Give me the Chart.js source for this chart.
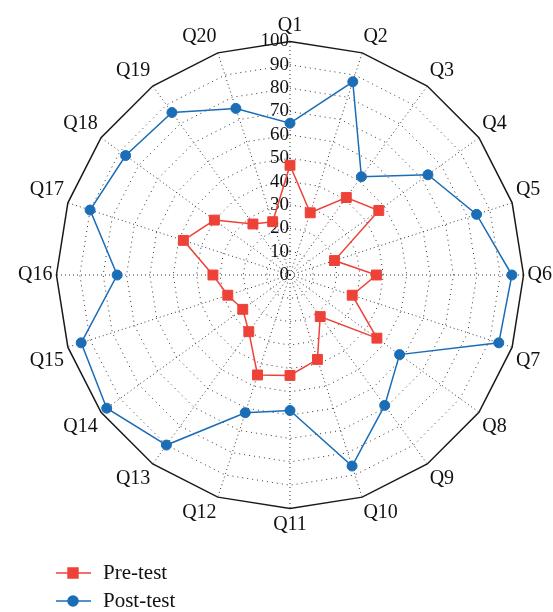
<!DOCTYPE html>
<html>
<head>
<meta charset="utf-8">
<script src="https://cdn.jsdelivr.net/npm/chart.js@4.4.1/dist/chart.umd.min.js"></script>
<style>
  html, body { margin: 0; padding: 0; background: #fff; overflow: hidden; width: 553px; height: 612px; }
  /* canvas is a bit larger than the window so the point labels may run to the edges */
  #radar { position: absolute; left: 0; top: -12px; display: block; }
</style>
</head>
<body>
<canvas id="radar" width="600" height="640"></canvas>
<script>
'use strict';

// questions round the radar
const questions = ['Q1', 'Q2', 'Q3', 'Q4', 'Q5', 'Q6', 'Q7', 'Q8', 'Q9', 'Q10',
    'Q11', 'Q12', 'Q13', 'Q14', 'Q15', 'Q16', 'Q17', 'Q18', 'Q19', 'Q20'];

// scores
const preTest = [47, 28, 41, 47, 20, 37, 28, 46, 22, 38, 43, 45, 30, 25, 28, 33, 48, 40, 27, 24];
const postTest = [65, 87, 52, 73, 84, 95, 94, 58, 69, 86, 58, 62, 90, 97, 94, 74, 90, 87, 86, 75];

const tickValues = [0, 10, 20, 30, 40, 50, 60, 70, 80, 90, 100];
const tickLabels = ['0', '10', '20', '30', '40', '50', '60', '70', '80', '90', '100'];

const serif = '"Liberation Serif", "Times New Roman", serif';

// tick numbers sit just left of the Q1 spoke, "0" included
const tickText = {
    id: 'tickText',
    beforeDatasetsDraw(chart)
    {
        const r = chart.scales.r;
        const ctx = chart.ctx;
        ctx.save();
        ctx.font = '19px ' + serif;
        ctx.fillStyle = '#111';
        ctx.textAlign = 'right';
        ctx.textBaseline = 'middle';
        tickValues.forEach((v, i) =>
        {
            const d = r.getDistanceFromCenterForValue(v);
            ctx.fillText(tickLabels[i], r.xCenter - 1, r.yCenter - d);
        });
        ctx.restore();
    }
};

// legend with a line through the marker, stacked at bottom left
const lineLegend = {
    id: 'lineLegend',
    afterDraw(chart)
    {
        const ctx = chart.ctx;
        chart.data.datasets.forEach((ds, i) =>
        {
            const y = 585 + i * 28;
            ctx.save();
            ctx.strokeStyle = ds.borderColor;
            ctx.lineWidth = 1.5;
            ctx.beginPath();
            ctx.moveTo(56, y);
            ctx.lineTo(91, y);
            ctx.stroke();
            ctx.fillStyle = ds.pointBackgroundColor;
            ctx.strokeStyle = ds.pointBorderColor;
            Chart.helpers.drawPoint(ctx, { pointStyle: ds.pointStyle, radius: ds.pointRadius, borderWidth: 1, rotation: 0 }, 73, y);
            ctx.font = '21px ' + serif;
            ctx.fillStyle = '#111';
            ctx.textAlign = 'left';
            ctx.textBaseline = 'middle';
            ctx.fillText(ds.label, 103, y);
            ctx.restore();
        });
    }
};

const ctx = document.getElementById('radar').getContext('2d');
const radarChart = new Chart(ctx, {
    type: 'radar',
    data: {
        labels: questions,
        datasets: [
            {
                label: 'Pre-test',
                data: preTest,
                borderColor: '#ee4238',
                backgroundColor: '#ee4238',
                borderWidth: 1.5,
                fill: false,
                pointStyle: 'rect',
                pointRadius: 7,
                pointBackgroundColor: '#ee4238',
                pointBorderColor: '#ee4238',
                pointBorderWidth: 1,
                tension: 0
            },
            {
                label: 'Post-test',
                data: postTest,
                borderColor: '#1b6db6',
                backgroundColor: '#1b6db6',
                borderWidth: 1.5,
                fill: false,
                pointStyle: 'circle',
                pointRadius: 5,
                pointBackgroundColor: '#1b6db6',
                pointBorderColor: '#1b6db6',
                pointBorderWidth: 1,
                tension: 0
            }
        ]
    },
    options: {
        responsive: false,
        animation: false,
        layout: {
            padding: { left: 13, right: 42, top: 15, bottom: 80 }
        },
        scales: {
            r: {
                min: 0,
                max: 100,
                ticks: {
                    stepSize: 10,
                    display: false
                },
                grid: {
                    circular: false,
                    color: (c) => c.tick && c.tick.value === 100 ? '#1a1a1a' : '#333',
                    lineWidth: (c) => c.tick && c.tick.value === 100 ? 1.5 : 1
                },
                border: {
                    dash: (c) => c.tick && c.tick.value === 100 ? [] : [1, 4]
                },
                angleLines: {
                    color: '#333',
                    lineWidth: 1,
                    borderDash: [1, 3]
                },
                pointLabels: {
                    padding: 4,
                    color: '#111',
                    font: { family: serif, size: 20 }
                }
            }
        },
        plugins: {
            legend: { display: false },
            tooltip: { enabled: false }
        }
    },
    plugins: [tickText, lineLegend]
});
</script>
</body>
</html>
